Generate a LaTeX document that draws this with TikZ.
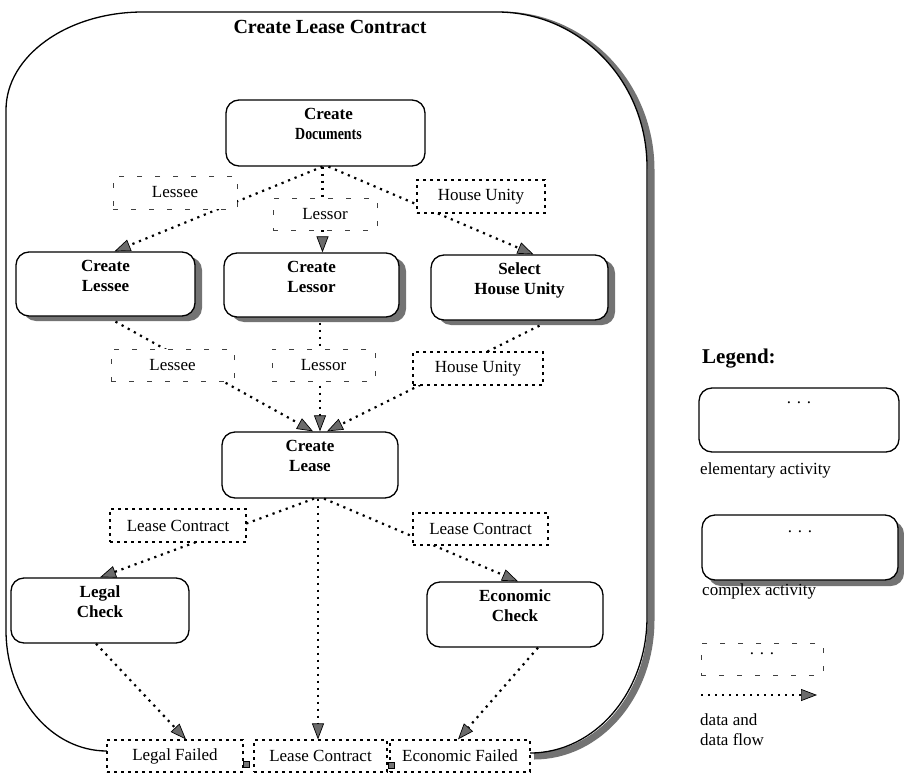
\documentclass[tikz,border=0pt]{standalone}
\usepackage{fontspec}
\setmainfont{Liberation Serif}
\usepackage{graphicx}
\usetikzlibrary{arrows.meta,shadows}

\definecolor{shadowgray}{gray}{0.45}
\definecolor{tipgray}{gray}{0.42}
\definecolor{lightdash}{gray}{0.25}

\tikzset{
  activity/.style={draw=black, line width=1.3pt, rounded corners=13pt, fill=white, inner sep=0pt},
  complexact/.style={activity, drop shadow={shadow xshift=7pt, shadow yshift=-5pt, opacity=1, fill=shadowgray}},
  acttext/.style={font=\fontsize{17}{20}\selectfont\bfseries, align=center, anchor=base, inner sep=0pt},
  datatext/.style={font=\fontsize{17}{20}\selectfont, inner sep=0pt, fill=white},
  dataloose/.style={datatext, draw=lightdash, line width=0.9pt, dash pattern=on 5pt off 13pt},
  datadense/.style={datatext, draw=black, line width=1.2pt, dash pattern=on 3pt off 4pt},
  flow/.style={line width=2.2pt, dash pattern=on 2.2pt off 4.8pt,
    -{Triangle[length=16pt, width=12pt, fill=tipgray, line width'=0.7pt]}},
  port/.style={draw=black, fill=shadowgray, line width=0.7pt, minimum size=6pt, inner sep=0pt},
  legendtext/.style={font=\fontsize{17}{20}\selectfont, inner sep=0pt, align=left},
}

\begin{document}
\begin{tikzpicture}[x=1pt,y=-1pt]
\useasboundingbox (0,0) rectangle (904,773);

% shadow along the right side of the enclosing activity
\draw[shadowgray, line width=7pt] (501,15) .. controls (584,15) and (651,84) .. (651,170)
  -- (651,620) .. controls (651,695) and (599,756) .. (534,756);
% enclosing complex activity (its bottom edge runs behind the output data)
\filldraw[fill=white, draw=black, line width=1.3pt] (107,751) .. controls (51,751) and (6,697) .. (6,630)
  -- (6,110) .. controls (6,56) and (67,12) .. (143,12)
  -- (497,12) .. controls (580,12) and (647,81) .. (647,167)
  -- (647,617) .. controls (647,692) and (595,753) .. (530,753);
\node[font=\fontsize{20}{24}\selectfont\bfseries, anchor=base, inner sep=0pt] (title) at (330,34) {Create Lease Contract};

% activities
\node[activity, minimum width=199pt, minimum height=66pt] (cd) at (325.5,133) {};
\node[complexact, minimum width=179pt, minimum height=64pt] (cle) at (105.5,284) {};
\node[complexact, minimum width=175pt, minimum height=64pt] (clo) at (311.5,285) {};
\node[complexact, minimum width=177pt, minimum height=65pt] (shu) at (519.5,287.5) {};
\node[activity, minimum width=176pt, minimum height=66pt] (cls) at (310,465) {};
\node[activity, minimum width=178pt, minimum height=65pt] (lc) at (100,610.5) {};
\node[activity, minimum width=176pt, minimum height=65pt] (ec) at (515,614.5) {};

% two-line labels: the base anchor sits on the second line
\node[acttext] (cdt) at ([xshift=3pt,yshift=-40pt]cd.north) {Create\\\scalebox{0.82}[1]{Documents}};
\node[acttext] (clet) at ([yshift=-40pt]cle.north) {Create\\Lessee};
\node[acttext] (clot) at ([yshift=-40pt]clo.north) {Create\\Lessor};
\node[acttext] (shut) at ([yshift=-40pt]shu.north) {Select\\House Unity};
\node[acttext] (clst) at ([yshift=-40pt]cls.north) {Create\\Lease};
\node[acttext] (lct) at ([yshift=-40pt]lc.north) {Legal\\Check};
\node[acttext] (ect) at ([yshift=-40pt]ec.north) {Economic\\Check};

% output data at the bottom
\node[datadense, minimum width=136pt, minimum height=32pt] (d9) at (175,756) {Legal Failed};
\node[datadense, minimum width=133pt, minimum height=32pt] (d10) at (320.5,756) {Lease Contract};
\node[datadense, minimum width=140pt, minimum height=32pt] (d11) at (460,756) {Economic Failed};

% data flow
\coordinate (cdl) at ([xshift=-3pt]cd.south);
\coordinate (cdr) at ([xshift=3pt]cd.south);
\coordinate (cm) at ([xshift=8.5pt,yshift=-5pt]clo.south);
\coordinate (cb) at ([xshift=8pt]cls.south);
\draw[flow] (cdl) -- ([xshift=9pt]cle.north);
\draw[flow] (cdl) -- (cdl |- clo.north);
\draw[flow] (cdr) -- ([xshift=14pt]shu.north);
\draw[flow] ([xshift=10pt,yshift=-5pt]cle.south) -- ([xshift=3pt]cls.north);
\draw[flow] (cm) -- (cm |- cls.north);
\draw[flow] ([xshift=20pt,yshift=-5pt]shu.south) -- ([xshift=17pt]cls.north);
\draw[flow] ([xshift=4pt]cls.south) -- (lc.north);
\draw[flow] (cb) -- (cb |- d10.north);
\draw[flow] ([xshift=14pt]cls.south) -- ([xshift=3pt]ec.north);
\draw[flow] ([xshift=-4pt]lc.south) -- ([xshift=11pt]d9.north);
\draw[flow] ([xshift=23pt]ec.south) -- ([xshift=-2pt]d11.north);

% data passed between activities
\node[dataloose, minimum width=124pt, minimum height=33pt] (d1) at (175,192.5) {Lessee};
\node[dataloose, minimum width=104pt, minimum height=32pt] (d2) at (325,214) {Lessor};
\node[datadense, minimum width=128pt, minimum height=33pt] (d3) at (481,196.5) {House Unity};
\node[dataloose, minimum width=123pt, minimum height=32pt] (d4) at (172.5,365) {Lessee};
\node[dataloose, minimum width=103pt, minimum height=32pt] (d5) at (323.5,365) {Lessor};
\node[datadense, minimum width=130pt, minimum height=33pt] (d6) at (478,368.5) {House Unity};
\node[datadense, minimum width=136pt, minimum height=33pt] (d7) at (178,525.5) {Lease Contract};
\node[datadense, minimum width=135pt, minimum height=32pt] (d8) at (480.5,529) {Lease Contract};

\node[port] (p1) at (246,764) {};
\node[port] (p2) at (391,765) {};

% legend
\node[font=\fontsize{21}{24}\selectfont\bfseries, anchor=base west, inner sep=0pt] (lg) at (702,363) {Legend:};
\node[activity, minimum width=200pt, minimum height=64pt] (le) at (799,420) {};
\node[acttext, font=\fontsize{17}{20}\selectfont] (let) at ([yshift=-16pt]le.north) {. . .};
\node[legendtext, anchor=base west] (lel) at (700,474) {elementary activity};
\node[activity, drop shadow={shadow xshift=6pt, shadow yshift=-6pt, opacity=1, fill=shadowgray}, minimum width=196pt, minimum height=65pt] (lca) at (800,547.5) {};
\node[acttext, font=\fontsize{17}{20}\selectfont] (lcat) at ([yshift=-18pt]lca.north) {. . .};
\node[legendtext, anchor=base west] (lcal) at (702,595) {complex activity};
\node[dataloose, minimum width=122pt, minimum height=32pt] (ld) at (762,659) {};
\node[legendtext, anchor=base] (ldt) at (762,654) {. . .};
\coordinate (la) at (701,695);
\coordinate (lb) at (817,695);
\draw[flow] (la) -- (lb);
\node[legendtext, anchor=base west] (ldl) at (700,745) {data and\\data flow};
\end{tikzpicture}
\end{document}
